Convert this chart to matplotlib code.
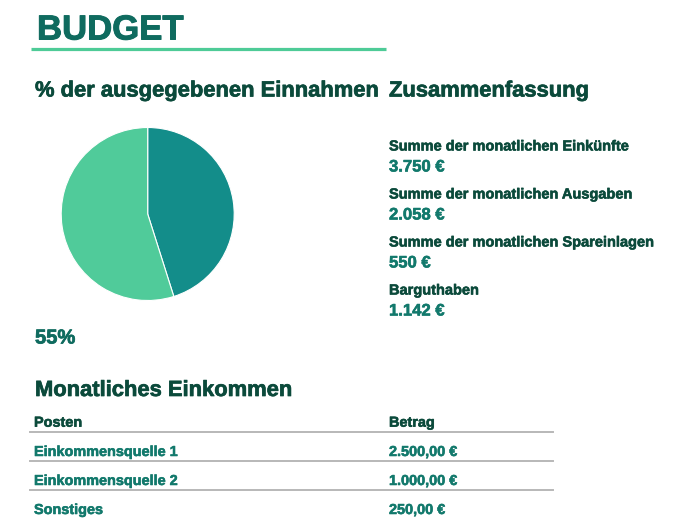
import matplotlib
matplotlib.use("Agg")
import matplotlib.pyplot as plt
import matplotlib.patheffects as pe

plt.rcParams['font.family'] = ['Liberation Sans', 'DejaVu Sans']

# Data
monthly_income = 3750
monthly_expenses = 2058
summary_labels = ["Summe der monatlichen Einkünfte",
                  "Summe der monatlichen Ausgaben",
                  "Summe der monatlichen Spareinlagen",
                  "Barguthaben"]
summary_values = ["3.750 €", "2.058 €", "550 €", "1.142 €"]
income_items = ["Einkommensquelle 1", "Einkommensquelle 2", "Sonstiges"]
income_amounts = ["2.500,00 €", "1.000,00 €", "250,00 €"]

# Colours
DARK = "#0b4a3b"
TEAL = "#12796c"
TITLE = "#0f6b5f"
PIE_DARK = "#138d8a"
PIE_LIGHT = "#50cb9a"
LINE_GREEN = "#4ecb97"
GRAY = "#b8b8b8"

W, H = 675, 520
fig = plt.figure(figsize=(W / 100, H / 100), dpi=100)


def fx(x):
    return x / W


def fy(y):
    return 1 - y / H


def txt(x, y, s, size, color, thick=0.4):
    # a thin outline in the same colour makes the bold text a bit heavier
    fig.text(fx(x), fy(y), s, fontsize=size, color=color,
             fontweight='bold', va='baseline', ha='left',
             path_effects=[pe.withStroke(linewidth=thick, foreground=color)])


# Title and underline
txt(37, 39.5, "BUDGET", 25, TITLE, 0.7)
fig.add_artist(plt.Line2D([fx(31), fx(386)], [fy(49.3), fy(49.3)],
                          color=LINE_GREEN, lw=2.3, solid_capstyle='butt'))

txt(35, 96.5, "% der ausgegebenen Einnahmen", 15.8, DARK, 0.5)
txt(389, 96.5, "Zusammenfassung", 15.8, DARK, 0.5)

# Pie chart
cx, cy, r = 147.7, 214, 86.5
ax = fig.add_axes([fx(cx - r), fy(cy + r), 2 * r / W, 2 * r / H])
remaining = monthly_income - monthly_expenses
ax.pie([remaining, monthly_expenses], colors=[PIE_DARK, PIE_LIGHT],
       startangle=90, counterclock=False, radius=1,
       wedgeprops=dict(edgecolor='white', linewidth=0.8))
ax.set_xlim(-1, 1)
ax.set_ylim(-1, 1)
ax.axis('off')

pct = round(monthly_expenses / monthly_income * 100)
txt(35, 343.5, f"{pct}%", 14.5, TITLE, 0.5)

# Summary block
for i, (lab, val) in enumerate(zip(summary_labels, summary_values)):
    base = 150.5 + 48 * i
    txt(389, base, lab, 10.5, DARK)
    txt(389, base + 21, val, 12, TEAL)

# Monthly income table
txt(35, 396, "Monatliches Einkommen", 15.8, DARK, 0.5)
txt(34, 426.7, "Posten", 10.4, DARK)
txt(389, 426.7, "Betrag", 10.4, DARK)

line_ys = [431.7, 460.5, 489.5]
for ly in line_ys:
    fig.add_artist(plt.Line2D([fx(30), fx(553)], [fy(ly), fy(ly)],
                              color=GRAY, lw=1.4))

for i, (item, amt) in enumerate(zip(income_items, income_amounts)):
    base = 456 + 29 * i
    txt(34, base, item, 10.4, TEAL)
    txt(389, base, amt, 10.4, TEAL)

fig.savefig("out.png", dpi=100, facecolor='white')
